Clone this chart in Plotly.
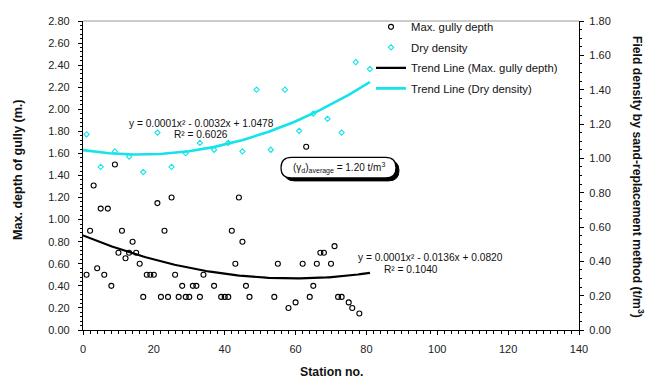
import numpy as np
import plotly.graph_objects as go

# ---------------- data ----------------
depth_station = [1, 2, 3, 4, 5, 6, 7, 8, 9, 10, 11, 12, 13, 14, 15, 16, 17, 18, 19, 20,
                 21, 22, 23, 24, 25, 26, 27, 28, 29, 30, 31, 32, 33, 34, 37, 39, 40, 41,
                 42, 43, 44, 45, 46, 47, 54, 55, 58, 60, 62, 63, 64, 65, 66, 67, 68, 70,
                 71, 72, 73, 75, 76, 78]
max_gully_depth = [0.50, 0.90, 1.31, 0.56, 1.10, 0.50, 1.10, 0.40, 1.50, 0.70,
                   0.90, 0.65, 0.70, 0.80, 0.70, 0.60, 0.30, 0.50, 0.50, 0.50,
                   1.15, 0.30, 0.90, 0.30, 1.20, 0.50, 0.30, 0.40, 0.30, 0.30,
                   0.40, 0.40, 0.30, 0.50, 0.40, 0.30, 0.30, 0.30,
                   0.90, 0.60, 1.20, 0.80, 0.40, 0.30, 0.30, 0.60, 0.20, 0.25, 0.60, 1.66,
                   0.30, 0.40, 0.60, 0.70, 0.70, 0.60,
                   0.76, 0.30, 0.30, 0.25, 0.20, 0.15]

density_station = [1, 5, 9, 13, 17, 21, 25, 29, 33, 37, 41, 45, 49, 53, 57, 61, 65, 69, 73, 77, 81]
dry_density = [1.14, 0.95, 1.04, 1.01, 0.92, 1.15, 0.95, 1.03, 1.09, 1.05, 1.09,
               1.04, 1.40, 1.05, 1.40, 1.16, 1.26, 1.23, 1.15, 1.56, 1.52]

# trend line polynomial coefficients (a, b, c) as drawn
trend_depth_coef = [0.00011, -0.0131, 0.857]
trend_density_coef = [0.0001, -0.0032, 1.0478]
trend_x_range = [0, 81]

eq_depth = ["y = 0.0001x² - 0.0136x + 0.0820", "R² = 0.1040"]
eq_density = ["y = 0.0001x² - 0.0032x + 1.0478", "R² = 0.6026"]
avg_text = "(γ<sub>d</sub>)<sub>average</sub> = 1.20 t/m<sup>3</sup>"

CYAN = "#14E3EA"
FONT = "Liberation Sans, Arial, sans-serif"

tx = np.linspace(trend_x_range[0], trend_x_range[1], 120)
td = np.polyval(trend_depth_coef, tx)
tdd = np.polyval(trend_density_coef, tx)

fig = go.Figure()
fig.add_trace(go.Scatter(x=depth_station, y=max_gully_depth, mode="markers",
                         name="Max. gully depth", legendgroup="a",
                         marker=dict(symbol="circle-open", size=5, color="black",
                                     line=dict(width=1.1, color="black"))))
fig.add_trace(go.Scatter(x=density_station, y=dry_density, mode="markers",
                         name="Dry density", yaxis="y2", legendgroup="b",
                         marker=dict(symbol="diamond-open", size=4, color=CYAN,
                                     line=dict(width=1.1, color=CYAN))))
fig.add_trace(go.Scatter(x=tx, y=td, mode="lines", name="Trend Line (Max. gully depth)",
                         legendgroup="c", line=dict(color="black", width=2.2)))
fig.add_trace(go.Scatter(x=tx, y=tdd, mode="lines", name="Trend Line (Dry density)",
                         yaxis="y2", legendgroup="d", line=dict(color=CYAN, width=2.6)))

L, R, T, B = 83, 73, 15, 51
W, H = 652, 381
PW, PH = W - L - R, H - T - B


def px2paper(px, py):
    return (px - L) / PW, 1 - (py - T) / PH


def pill_path(x0, y0, x1, y1):
    r = (y1 - y0) / 2.0

    def P(px, py):
        a, b = px2paper(px, py)
        return f"{a:.5f},{b:.5f}"
    return (f"M {P(x0 + r, y0)} L {P(x1 - r, y0)} Q {P(x1, y0)} {P(x1, y0 + r)} "
            f"Q {P(x1, y1)} {P(x1 - r, y1)} L {P(x0 + r, y1)} Q {P(x0, y1)} {P(x0, y1 - r)} "
            f"Q {P(x0, y0)} {P(x0 + r, y0)} Z")


bx0, by0, bx1, by1 = 281, 154, 396, 175
shapes = [
    dict(type="path", xref="paper", yref="paper", path=pill_path(bx0 + 3, by0 + 3, bx1 + 3, by1 + 3),
         fillcolor="black", line=dict(color="black", width=1)),
    dict(type="path", xref="paper", yref="paper", path=pill_path(bx0, by0, bx1, by1),
         fillcolor="white", line=dict(color="black", width=1.2)),
    dict(type="line", xref="paper", yref="paper", x0=0, x1=1, y0=1, y1=1,
         line=dict(color="#9a9a9a", width=1.2)),
]


def ann(text, px, py, size, angle=0):
    x, y = px2paper(px, py)
    return dict(text=text, xref="paper", yref="paper", x=x, y=y, xanchor="center",
                yanchor="middle", textangle=angle, showarrow=False,
                font=dict(size=size, color="#111", family=FONT))


cxp, cyp = (bx0 + bx1) / 2, (by0 + by1) / 2
annotations = [
    ann(avg_text, cxp, cyp, 10),
    ann(eq_density[0], 201, 119, 10.2),
    ann(eq_density[1], 201, 131, 10.2),
    ann(eq_depth[0], 430, 256, 10.2),
    ann(eq_depth[1], 411, 268, 10.2),
    ann("<b>Max. depth of gully (m.)</b>", 18, 167, 12.6, -90),
    ann("<b>Field density by sand-replacement method (t/m<sup>3</sup>)</b>", 638, 174, 12.2, 90),
    ann("<b>Station no.</b>", 332, 373, 12.3),
]

axis_common = dict(showgrid=False, zeroline=False, showline=True, linecolor="black", linewidth=1.3,
                   ticks="outside", tickcolor="black", tickwidth=1, ticklen=4,
                   tickfont=dict(size=11, color="#222", family=FONT))

fig.update_layout(
    width=W, height=H, margin=dict(l=L, r=R, t=T, b=B),
    paper_bgcolor="white", plot_bgcolor="white",
    font=dict(family=FONT, size=10, color="#111"),
    xaxis=dict(range=[0, 140], dtick=20, tick0=0, ticklabelstandoff=5,
               minor=dict(dtick=2, ticks="outside", ticklen=3, tickcolor="black"),
               **axis_common),
    yaxis=dict(range=[0, 2.8], dtick=0.2, tick0=0, tickformat=".2f", ticklabelstandoff=6,
               minor=dict(dtick=0.04, ticks="outside", ticklen=2, tickcolor="black"),
               **axis_common),
    yaxis2=dict(range=[0, 1.8], dtick=0.2, tick0=0, tickformat=".2f", overlaying="y",
                side="right", anchor="x", ticklabelstandoff=3,
                minor=dict(dtick=0.05, ticks="outside", ticklen=2, tickcolor="black"),
                **axis_common),
    legend=dict(x=px2paper(371, 0)[0], y=1.028, xanchor="left", yanchor="top",
                bgcolor="rgba(255,255,255,0)", traceorder="grouped", tracegroupgap=1.5,
                font=dict(size=11.3, color="#111", family=FONT), itemwidth=30),
    showlegend=True,
    shapes=shapes,
    annotations=annotations,
)

fig.write_html("out.html")
